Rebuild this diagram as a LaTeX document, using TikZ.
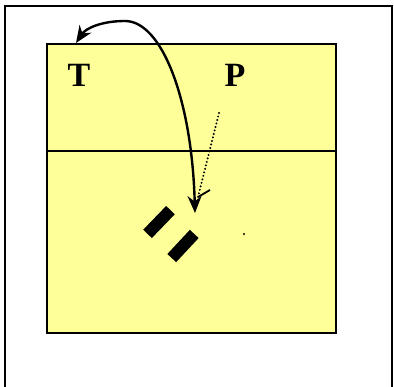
\documentclass[tikz,border=0pt]{standalone}
\usepackage{fontspec}
\setmainfont{Liberation Serif}
\usetikzlibrary{arrows.meta}
\definecolor{court}{RGB}{255,255,153}
\tikzset{
  lbl/.style={font=\fontsize{34}{34}\selectfont\bfseries, inner sep=0pt},
  blk/.style={fill=black, draw=none, minimum width=33pt, minimum height=12pt, inner sep=0pt},
  bigtip/.tip={Stealth[length=17pt,width=14pt]},
}
\begin{document}
\begin{tikzpicture}[x=1pt,y=-1pt]
\useasboundingbox (0,0) rectangle (394,387);
\fill[white] (0,0) rectangle (394,387);
% outer frame
\draw[line width=2.2pt] (5,390) -- (5,6) -- (392,6) -- (392,390);
% court
\draw[fill=court, line width=1.8pt] (47,44) rectangle (336,333);
\draw[line width=1.8pt] (47,151) -- (336,151);
% labels
\node[lbl] (T) at (79,75) {T};
\node[lbl] (P) at (235,75) {P};
% blocks
\node[blk, rotate=46] (b1) at (159,222) {};
\node[blk, rotate=47] (b2) at (183,246) {};
% dot
\fill (244,234) circle (1.1pt);
% coordinates
\coordinate (topTip) at (76,43);
\coordinate (peak) at (125,21);
\coordinate (botTip) at (195,213);
\coordinate (dotStart) at (219,113);
\coordinate (dotEnd) at (198,197);
\coordinate (tick) at (210,190);
% curved arrow
\draw[line width=2.4pt, bigtip-bigtip]
  (topTip) .. controls (86,28) and (102,21) .. (peak)
  .. controls (162,21) and (192,100) .. (botTip);
% dotted arrow
\draw[line width=2.2pt, line cap=round, dash pattern=on 0pt off 3.6pt] (dotStart) -- (dotEnd);
\draw[line width=1.8pt] (dotEnd) -- (tick);
\end{tikzpicture}
\end{document}
